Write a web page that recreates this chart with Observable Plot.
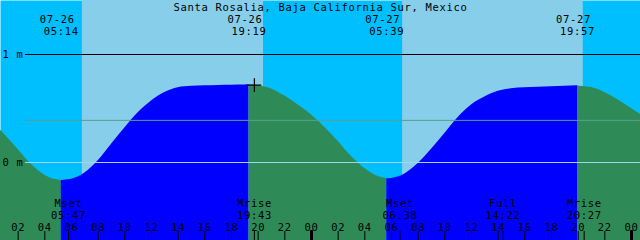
<!DOCTYPE html>
<html><head><meta charset="utf-8">
<script src="https://cdn.jsdelivr.net/npm/d3@7"></script>
<script src="https://cdn.jsdelivr.net/npm/@observablehq/plot@0.6"></script>
<style>html,body{margin:0;padding:0;background:#fff;} #chart svg{display:block;} #chart text{letter-spacing:0.68px;}</style>
</head><body><div id="chart"></div>
<script>
const title = "Santa Rosalia, Baja California Sur, Mexico";
const year = 2018;
const viewStart = "07-26 00:40:30";
const viewEnd = "07-28 00:40:30";

// tide extremes
const tideTimes = ["07-26 05:14", "07-26 19:19", "07-27 05:39", "07-27 19:57"];
const tideTypes = ["low", "high", "low", "high"];
const tideHeights = [-0.167, 0.719, -0.151, 0.710];

// sun (day background)
const sunrise = ["07-26 06:49", "07-27 06:50"];
const sunset = ["07-26 20:24", "07-27 20:23"];

// moon events
const moonTimes = ["07-26 05:47", "07-26 19:43", "07-27 06:38", "07-27 14:22", "07-27 20:27"];
const moonLabels = ["Mset", "Mrise", "Mset", "Full", "Mrise"];

// tide curve, hours after 07-26 00:00 and height in m
const curveHours = [0,1,2,3,4,5,6,7,8,9,10,11,12,13,14,15,16,17,18,19,20,21,22,23,24,
  25,26,27,28,29,30,31,32,33,34,35,36,37,38,39,40,41,42,43,44,45,46,47,48,49];
const curveHeights = [0.38,0.256,0.119,-0.019,-0.117,-0.163,-0.156,-0.098,0.016,0.169,
  0.320,0.460,0.570,0.648,0.693,0.706,0.711,0.714,0.716,0.718,0.710,0.681,0.615,0.532,0.440,
  0.325,0.195,0.056,-0.056,-0.130,-0.147,-0.106,-0.009,0.122,0.269,0.417,0.533,0.606,0.659,
  0.683,0.692,0.696,0.701,0.706,0.709,0.694,0.648,0.578,0.500,0.417];

// reference levels
const levelValues = [1, 0.39, 0];
const levelColors = ["#000000", "#5a9f8c", "#9fd6ea"];
const yLabelValues = [1, 0];
const yLabels = ["1 m", "0 m"];

// current mark
const markTime = ["07-26 19:43"];
const markHeight = [0.716];

const yMin = -0.7222, yMax = 1.5;
const T = s => new Date(`${year}-${s.slice(0,5)}T${s.slice(6)}${s.length > 11 ? "" : ":00"}Z`);
const base = Date.UTC(year, 6, 26);
const x0 = T(viewStart), x1 = T(viewEnd);

const pts = curveHours.map((h, i) => ({t: new Date(base + h * 36e5), h: curveHeights[i]}))
  .concat(tideTimes.map((s, i) => ({t: T(s), h: tideHeights[i]})))
  .sort((a, b) => a.t - b.t);
const bounds = [-Infinity, ...tideTimes.map(s => +T(s)), Infinity];
const water = [];
for (let i = 0; i < bounds.length - 1; i++) {
  const dir = i < tideTypes.length ? (tideTypes[i] === "high" ? "rise" : "fall")
    : (tideTypes[tideTypes.length - 1] === "high" ? "fall" : "rise");
  for (const p of pts) if (+p.t >= bounds[i] && +p.t <= bounds[i + 1]) water.push({...p, seg: i, dir});
}
const days = sunrise.map((s, i) => ({a: T(s), b: T(sunset[i])}));
const tides = tideTimes.map((s, i) => ({t: T(s), date: s.slice(0, 5), time: s.slice(6)}));
const moons = moonTimes.map((s, i) => ({t: T(s), name: moonLabels[i], time: s.slice(6)}));
const hourTicks = d3.utcHour.every(2).range(x0, x1);
const midnights = d3.utcDay.range(x0, x1);
const levels = levelValues.map((v, i) => ({v, c: levelColors[i]}));
const ylab = yLabelValues.map((v, i) => ({v, s: yLabels[i]}));
const marks = markTime.map((s, i) => ({t: T(s), h: markHeight[i]}));

const FS = 10.5;
const font = {fontFamily: "DejaVu Sans Mono", fontSize: FS, fill: "black"};

const chart = Plot.plot({
  width: 640, height: 240,
  marginTop: 0, marginRight: 0, marginBottom: 0, marginLeft: 0,
  style: {fontFamily: "DejaVu Sans Mono", fontSize: FS + "px", background: "white"},
  x: {type: "utc", domain: [x0, x1], axis: null},
  y: {domain: [yMin, yMax], axis: null},
  color: {domain: ["rise", "fall"], range: ["#0000ff", "#2e8b57"]},
  marks: [
    Plot.frame({fill: "#00bfff", stroke: "none"}),
    Plot.rect(days, {x1: "a", x2: "b", fill: "#87ceeb"}),
    Plot.areaY(water, {x: "t", y1: yMin, y2: "h", z: "seg", fill: "dir", curve: "monotone-x"}),
    Plot.ruleY(levels, {y: "v", stroke: "c", insetLeft: 25}),
    Plot.text(ylab, {y: "v", text: "s", frameAnchor: "left", textAnchor: "start", dx: 2, ...font}),
    Plot.text([title], {frameAnchor: "top", lineAnchor: "bottom", dy: 10, ...font}),
    Plot.text(tides, {x: "t", text: "date", frameAnchor: "top", lineAnchor: "bottom", dy: 22, dx: -4, ...font}),
    Plot.text(tides, {x: "t", text: "time", frameAnchor: "top", lineAnchor: "bottom", dy: 34, ...font}),
    Plot.text(moons, {x: "t", text: "name", frameAnchor: "bottom", lineAnchor: "bottom", dy: -34, ...font}),
    Plot.text(moons, {x: "t", text: "time", frameAnchor: "bottom", lineAnchor: "bottom", dy: -22, ...font}),
    Plot.text(hourTicks, {x: d => d, text: d3.utcFormat("%H"), frameAnchor: "bottom", lineAnchor: "bottom", dy: -10, ...font}),
    Plot.ruleX(hourTicks, {x: d => d, insetTop: 231, stroke: "black"}),
    Plot.ruleX(moons, {x: "t", insetTop: 231, stroke: "black"}),
    Plot.ruleX(midnights, {x: d => d, insetTop: 230, stroke: "black", strokeWidth: 3}),
    Plot.dot(marks, {x: "t", y: "h", symbol: "plus", r: 4.5, stroke: "black", strokeWidth: 1.2})
  ]
});
document.getElementById("chart").appendChild(chart);
</script>
</body></html>
